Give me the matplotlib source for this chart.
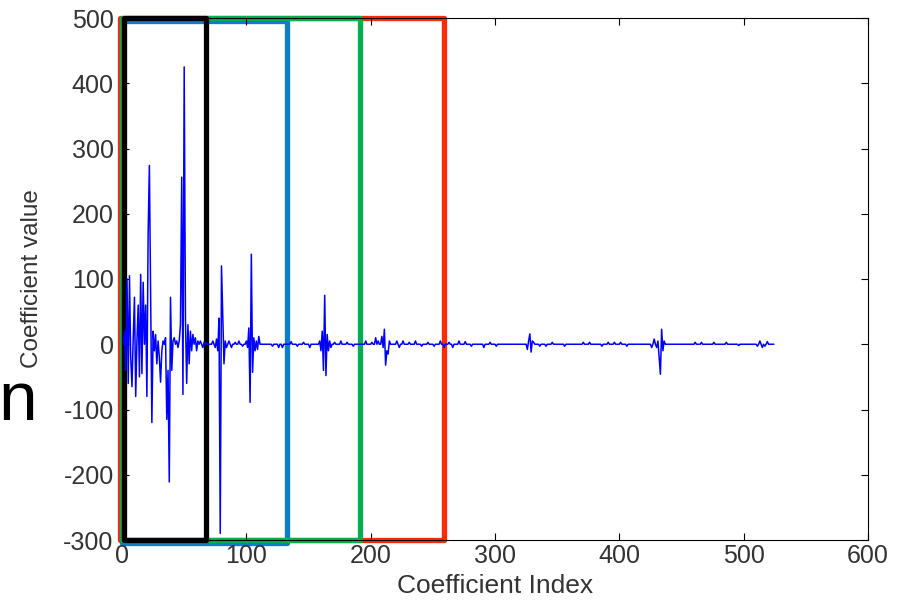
import numpy as np
import matplotlib
matplotlib.use("Agg")
import matplotlib.pyplot as plt
from matplotlib.patches import Rectangle

# --- datos: coeficientes distintos de cero (indice, valor) ---
n_coef = 524
idx_a = [1, 2, 3, 4, 5, 6, 7, 8, 9, 10, 11, 12, 13, 14, 15, 16, 17, 18, 19,
         20, 21, 22, 23, 24, 25, 26, 27, 28, 29, 30, 31, 32, 34, 35, 36, 37,
         38, 39, 40, 41, 43, 44, 45, 46, 47, 48, 49, 50, 51, 52, 53, 54, 55,
         56, 58, 59, 60, 62, 64, 65, 67]
val_a = [20, -40, 100, -60, 105, -20, -65, 10, 72, -80, 5, 60, -50, 107, -45,
         95, 0, 60, -80, 169, 274, 75, -120, 20, -10, 15, -30, 5, -20, -58,
         -10, 5, 10, -115, -40, -211, 72, -40, 5, 10, 5, -5, 5, 30, 256, -77,
         425, 40, -60, 30, -30, 20, -10, 15, 10, -10, 5, 5, -5, 3, 2]

idx_b = [72, 74, 75, 76, 77, 78, 79, 80, 81, 82, 83, 85, 87, 90, 93, 96, 99,
         100, 101, 102, 103, 104, 105, 106, 107, 108, 109, 120, 125, 128, 135,
         140, 145, 150, 158, 159, 160, 161, 162, 163, 164, 165, 166, 167, 170,
         175, 180, 185]
val_b = [5, -5, 8, -10, 40, -290, 120, 42, -30, 5, -5, 5, -5, 3, 5, -3, 5,
         -5, 25, -89, 138, -43, 10, -10, 5, -8, 12, -3, -5, -5, 4, -3, 3, -5,
         5, -10, 20, -40, 75, -48, 15, -10, 5, -5, 3, 5, 3, -3]

idx_c = [195, 200, 203, 205, 208, 209, 210, 211, 212, 213, 214, 220, 222, 225,
         230, 235, 240, 245, 250, 255, 258, 262, 265, 270, 275, 280, 290, 295,
         300, 325, 326, 327, 328, 329, 330, 335, 340, 345, 355, 370, 375, 385,
         390, 395, 400, 405, 425, 427, 429, 430, 431, 432, 433, 434, 435, 460,
         465, 475, 485, 495, 510, 512, 514, 516, 518]
val_c = [5, 3, 10, 5, 12, -5, 23, -32, -10, -15, 5, 5, -5, 5, 3, 5, -3, 3, -3,
         5, -5, 3, -5, 5, 4, -3, -5, 3, -3, -8, 5, 16, -12, 5, 3, -3, -3, 3,
         -3, 3, 3, -3, 3, 3, 3, -3, -5, 8, -5, 5, -20, -46, 23, -10, 5, 3, 3,
         3, 3, -2, -3, 5, -5, -3, 4]

coef = np.zeros(n_coef)
coef[idx_a + idx_b + idx_c] = val_a + val_b + val_c

# --- recuadros superpuestos (x0, x1, y arriba, y abajo, color) ---
cajas = [
    (-1.5, 259, 500, -300, "#ff2a00"),
    (0, 133, 495, -305, "#0a7fc8"),
    (0, 191.5, 500, -300, "#00b050"),
    (1.5, 67.5, 500, -300, "black"),
]

plt.rcParams["font.family"] = ["Liberation Sans", "DejaVu Sans"]
plt.rcParams["axes.unicode_minus"] = False

gris = "#333333"
fig = plt.figure(figsize=(9.12, 6), dpi=100)
ax = fig.add_axes([0.1338, 0.1, 0.818, 0.87])
ax.plot(np.arange(1, n_coef + 1), coef, color="#0000ff", linewidth=1.1)

ax.set_xlim(0, 600)
ax.set_ylim(-300, 500)
ax.set_xticks(range(0, 601, 100))
ax.set_yticks(range(-300, 501, 100))
ax.tick_params(direction="in", top=True, right=True, length=5,
               labelsize=18, labelcolor=gris)
ax.tick_params(axis="y", pad=6)
ax.tick_params(axis="x", pad=3)
ax.set_xlabel("Coefficient Index", fontsize=19, color=gris)
ax.set_ylabel("Coefficient value", fontsize=17.5, color=gris)
ax.xaxis.set_label_coords(0.5, -0.066)
ax.yaxis.set_label_coords(-0.106, 0.5)

for x0, x1, y0, y1, c in cajas:
    r = Rectangle((x0, y1), x1 - x0, y0 - y1, fill=False, edgecolor=c,
                  linewidth=3.8, clip_on=False, joinstyle="round")
    ax.add_patch(r)

fig.text(-0.002, 0.3, "n", fontsize=50, color="black")

fig.savefig("out.png", dpi=100)
